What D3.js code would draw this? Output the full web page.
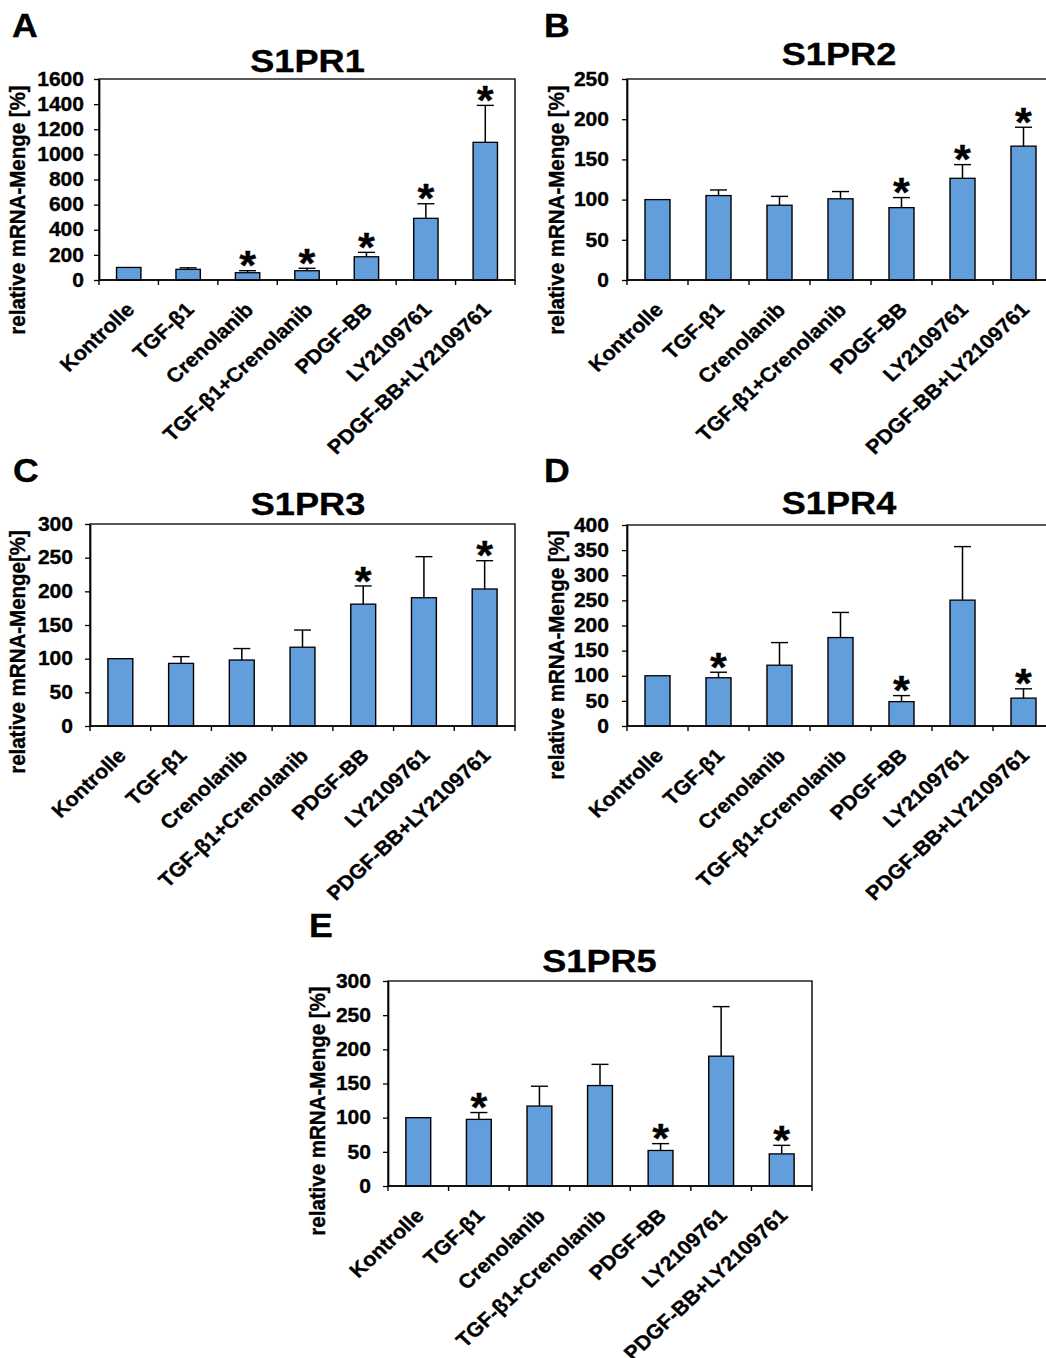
<!DOCTYPE html>
<html>
<head>
<meta charset="utf-8">
<script src="https://cdn.jsdelivr.net/npm/d3@7"></script>
<style>
  body { margin: 0; background: #fff; }
  text { font-family: Arial, "Liberation Sans", sans-serif; font-weight: bold; fill: #000; stroke: #000; stroke-width: 0.35; }
</style>
</head>
<body>
<svg id="fig" width="1046" height="1358"></svg>
<script>
// categories shared by all five panels
const categories = ["Kontrolle", "TGF-β1", "Crenolanib", "TGF-β1+Crenolanib", "PDGF-BB", "LY2109761", "PDGF-BB+LY2109761"];

// S1PR1
const s1pr1Mean = [100, 85, 58, 74, 185, 491, 1096];
const s1pr1Err  = [0, 12, 16, 19, 35, 116, 294];
const s1pr1Sig  = [0, 0, 1, 1, 1, 1, 1];
const s1pr1Ticks = [0, 200, 400, 600, 800, 1000, 1200, 1400, 1600];

// S1PR2
const s1pr2Mean = [100, 105, 93, 101, 90, 126.5, 166.5];
const s1pr2Err  = [0, 7, 11, 9, 12.5, 17, 23.5];
const s1pr2Sig  = [0, 0, 0, 0, 1, 1, 1];
const s1pr2Ticks = [0, 50, 100, 150, 200, 250];

// S1PR3
const s1pr3Mean = [100, 93, 98, 117, 181, 190.5, 203.5];
const s1pr3Err  = [0, 10, 17, 25.5, 27, 61, 42];
const s1pr3Sig  = [0, 0, 0, 0, 1, 0, 1];
const s1pr3Ticks = [0, 50, 100, 150, 200, 250, 300];

// S1PR4
const s1pr4Mean = [100, 96, 121, 176, 48.5, 250.5, 55.5];
const s1pr4Err  = [0, 11, 45, 50, 12, 106.5, 18.5];
const s1pr4Sig  = [0, 1, 0, 0, 1, 0, 1];
const s1pr4Ticks = [0, 50, 100, 150, 200, 250, 300, 350, 400];

// S1PR5
const s1pr5Mean = [100, 97.5, 117, 147, 52, 190, 47];
const s1pr5Err  = [0, 10, 29, 31, 10, 72.5, 12.5];
const s1pr5Sig  = [0, 1, 0, 0, 1, 0, 1];
const s1pr5Ticks = [0, 50, 100, 150, 200, 250, 300];

const yLabel = "relative mRNA-Menge [%]";
const yLabelC = "relative mRNA-Menge[%]";

// the original figure is slightly stretched horizontally
const SX = 1.08;
const X = px => px / SX;

const svg = d3.select("#fig");
const root = svg.append("g").attr("transform", `scale(${SX},1)`);

function drawPanel(p) {
  const g = root.append("g");

  const x = d3.scaleBand()
    .domain(categories)
    .range([X(p.x0), X(p.x1)])
    .paddingInner(0.59)
    .paddingOuter(0.295);

  const y = d3.scaleLinear()
    .domain([0, p.ticks[p.ticks.length - 1]])
    .range([p.yBot, p.yTop]);

  // plot frame
  g.append("rect")
    .attr("x", X(p.x0)).attr("y", p.yTop)
    .attr("width", X(p.x1) - X(p.x0)).attr("height", p.yBot - p.yTop)
    .attr("fill", "none").attr("stroke", "#000").attr("stroke-width", 1.3);

  // bars
  g.selectAll("rect.bar")
    .data(p.mean)
    .join("rect")
    .attr("class", "bar")
    .attr("x", (d, i) => x(categories[i]))
    .attr("y", d => y(d))
    .attr("width", x.bandwidth())
    .attr("height", d => y(0) - y(d))
    .attr("fill", "#619EDB")
    .attr("stroke", "#000")
    .attr("stroke-width", 1.3);

  // error bars (upper half only) and significance stars
  const capHalf = X(8.5);
  p.mean.forEach((m, i) => {
    const e = p.err[i];
    const cx = x(categories[i]) + x.bandwidth() / 2;
    if (e > 0) {
      g.append("line")
        .attr("x1", cx).attr("x2", cx)
        .attr("y1", y(m)).attr("y2", y(m + e))
        .attr("stroke", "#000").attr("stroke-width", 1.4);
      g.append("line")
        .attr("x1", cx - capHalf).attr("x2", cx + capHalf)
        .attr("y1", y(m + e)).attr("y2", y(m + e))
        .attr("stroke", "#000").attr("stroke-width", 1.4);
    }
    if (p.sig[i]) {
      g.append("text")
        .attr("x", cx)
        .attr("y", y(m + e) + 0.39 * 40 - 7)
        .attr("text-anchor", "middle")
        .attr("font-size", 40)
        .text("*");
    }
  });

  // y axis
  const ya = g.append("g")
    .attr("transform", `translate(${X(p.x0)},0)`)
    .call(d3.axisLeft(y).tickValues(p.ticks).tickFormat(d3.format("d"))
      .tickSize(X(5)).tickSizeOuter(0).tickPadding(X(p.pad)));
  ya.attr("font-size", null).attr("font-family", null);
  ya.select(".domain").attr("stroke", "#000").attr("stroke-width", 1.5);
  ya.selectAll(".tick line").attr("stroke", "#000").attr("stroke-width", 1.3);
  ya.selectAll(".tick text").attr("font-size", 19.5).attr("fill", "#000");

  // x axis with ticks between categories
  g.append("line")
    .attr("x1", X(p.x0)).attr("x2", X(p.x1))
    .attr("y1", p.yBot).attr("y2", p.yBot)
    .attr("stroke", "#000").attr("stroke-width", 1.5);
  g.selectAll("line.xt")
    .data(d3.range(categories.length + 1))
    .join("line")
    .attr("class", "xt")
    .attr("x1", k => X(p.x0) + k * x.step())
    .attr("x2", k => X(p.x0) + k * x.step())
    .attr("y1", p.yBot).attr("y2", p.yBot + 5)
    .attr("stroke", "#000").attr("stroke-width", 1.3);

  g.selectAll("text.xl")
    .data(categories)
    .join("text")
    .attr("class", "xl")
    .attr("text-anchor", "end")
    .attr("font-size", 20)
    .attr("transform", c => `translate(${x(c) + x.bandwidth() / 2 + X(7)},${p.yBot + 31}) rotate(-45)`)
    .text(c => c);

  // titles and labels
  g.append("text")
    .attr("x", X(p.tx)).attr("y", p.ty)
    .attr("text-anchor", "middle")
    .attr("font-size", 31)
    .attr("textLength", 106)
    .attr("lengthAdjust", "spacingAndGlyphs")
    .text(p.title);

  g.append("text")
    .attr("x", X(p.lx)).attr("y", p.ly)
    .attr("font-size", 33)
    .text(p.letter);

  g.append("text")
    .attr("transform", `translate(${X(p.ylx)},${p.yly}) rotate(-90)`)
    .attr("text-anchor", "middle")
    .attr("font-size", 20.5)
    .text(p.ylabel);
}

drawPanel({ letter: "A", title: "S1PR1", ylabel: yLabel, mean: s1pr1Mean, err: s1pr1Err, sig: s1pr1Sig, ticks: s1pr1Ticks,
  x0: 99, x1: 515, yTop: 79, yBot: 280, pad: 10, tx: 307.5, ty: 72, lx: 12, ly: 36.7, ylx: 25, yly: 210 });
drawPanel({ letter: "B", title: "S1PR2", ylabel: yLabel, mean: s1pr2Mean, err: s1pr2Err, sig: s1pr2Sig, ticks: s1pr2Ticks,
  x0: 627, x1: 1054, yTop: 79, yBot: 280, pad: 13, tx: 839, ty: 65, lx: 544, ly: 36.7, ylx: 564, yly: 210 });
drawPanel({ letter: "C", title: "S1PR3", ylabel: yLabelC, mean: s1pr3Mean, err: s1pr3Err, sig: s1pr3Sig, ticks: s1pr3Ticks,
  x0: 90, x1: 515, yTop: 524, yBot: 726, pad: 12, tx: 308, ty: 515, lx: 13, ly: 482, ylx: 25, yly: 652 });
drawPanel({ letter: "D", title: "S1PR4", ylabel: yLabel, mean: s1pr4Mean, err: s1pr4Err, sig: s1pr4Sig, ticks: s1pr4Ticks,
  x0: 627, x1: 1054, yTop: 525, yBot: 726, pad: 13, tx: 839, ty: 514, lx: 544, ly: 482, ylx: 564, yly: 655 });
drawPanel({ letter: "E", title: "S1PR5", ylabel: yLabel, mean: s1pr5Mean, err: s1pr5Err, sig: s1pr5Sig, ticks: s1pr5Ticks,
  x0: 388, x1: 812, yTop: 981, yBot: 1186, pad: 12, tx: 599.5, ty: 972, lx: 309, ly: 937, ylx: 325, yly: 1111 });
</script>
</body>
</html>
